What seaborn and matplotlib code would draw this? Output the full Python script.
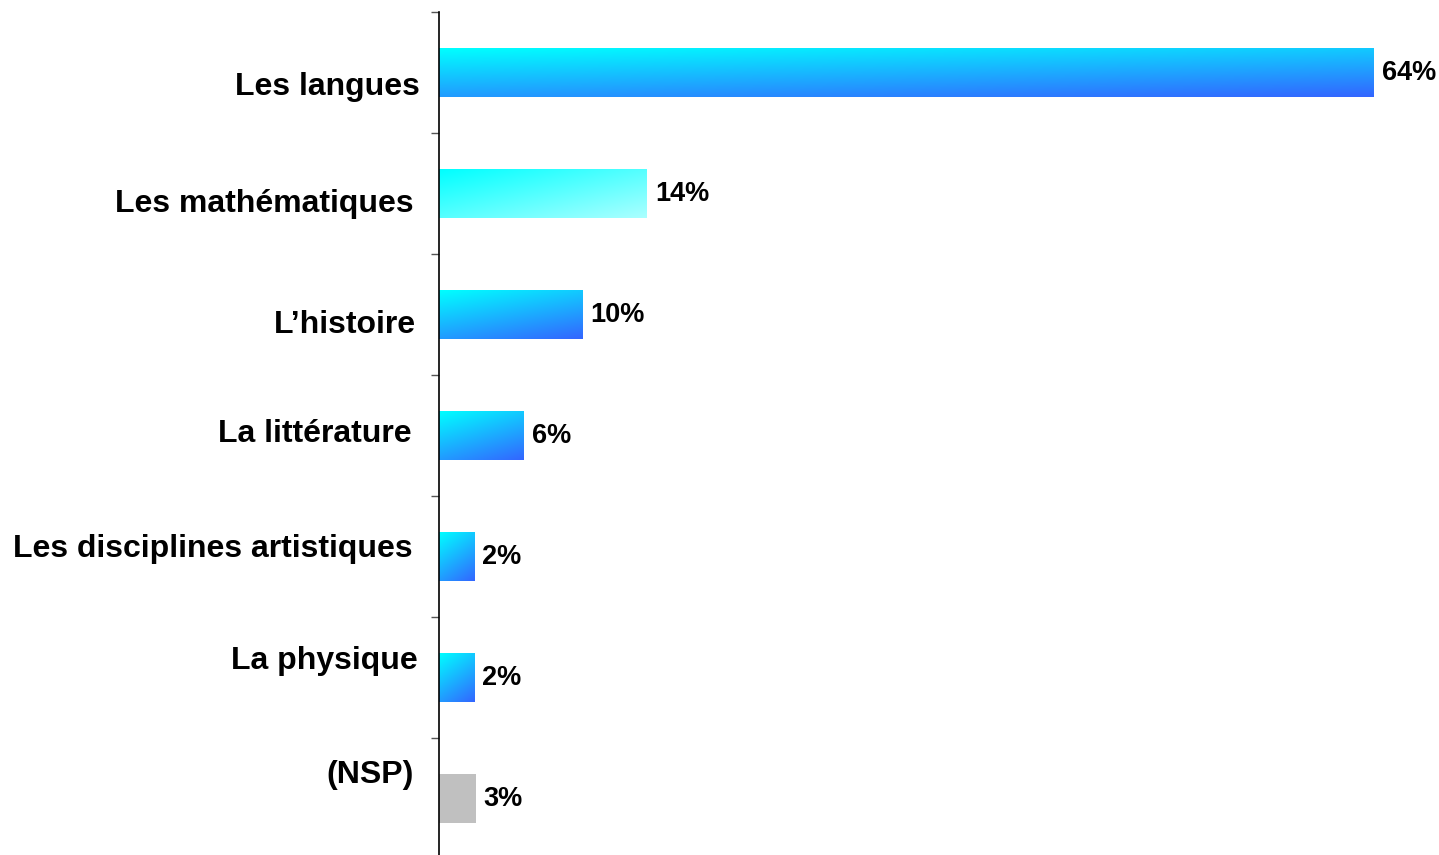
import numpy as np
import pandas as pd
import seaborn as sns
import matplotlib.pyplot as plt
from matplotlib.colors import LinearSegmentedColormap
from matplotlib.transforms import ScaledTranslation

categories = ['Les langues', 'Les mathématiques', 'L\u2019histoire', 'La littérature',
              'Les disciplines artistiques', 'La physique', '(NSP)']
# bar lengths as measured, printed labels are the rounded figures
values = [64, 14.2, 9.8, 5.8, 2.4, 2.4, 2.5]
value_labels = ['64%', '14%', '10%', '6%', '2%', '2%', '3%']

sns.set_style('white')
plt.rcParams['font.family'] = ['Liberation Sans', 'DejaVu Sans']

df = pd.DataFrame({'cat': categories, 'val': values})

fig = plt.figure(figsize=(14.39, 8.55), dpi=100)
ax = fig.add_axes([439 / 1439, -4 / 855, 1000 / 1439, 847 / 855])

sns.barplot(data=df, x='val', y='cat', orient='h', ax=ax, width=0.4,
            color='#00ffff', saturation=1, edgecolor='none')

# gradient fills clipped to each bar
blue = LinearSegmentedColormap.from_list('blue', ['#00ffff', '#3366ff'])
pale = LinearSegmentedColormap.from_list('pale', ['#00ffff', '#aaffff'])
u, v = np.meshgrid(np.linspace(0, 1, 200), np.linspace(0, 1, 50))
for i, patch in enumerate(ax.patches):
    x0, y0, w, h = patch.get_x(), patch.get_y(), patch.get_width(), patch.get_height()
    if categories[i] == '(NSP)':
        patch.set_facecolor('#c0c0c0')
        continue
    if i == 1:
        grad, cmap = (u + v) / 2, pale
    else:
        grad, cmap = 0.35 * u + 0.65 * v, blue
    im = ax.imshow(grad, cmap=cmap, vmin=0, vmax=1, extent=(x0, x0 + w, y0 + h, y0),
                   origin='upper', aspect='auto', zorder=patch.get_zorder() + 0.1)
    im.set_clip_path(patch)

texts = ax.bar_label(ax.containers[0], labels=value_labels, padding=6,
                     fontsize=19.5, fontweight='bold', color='black')
for t in texts:
    t.set_transform(t.get_transform() + ScaledTranslation(0, -0.03, fig.dpi_scale_trans))

ax.set_xlim(0, 64 * 1000 / 935)
ax.set_ylim(6.5, -0.5)
ax.set_xlabel('')
ax.set_ylabel('')
ax.set_xticks([])
ax.set_yticks(range(len(categories)))
ax.set_yticklabels(categories, fontsize=23, fontweight='bold', color='black')
ax.set_yticks(np.arange(-0.5, len(categories)), minor=True)
ax.tick_params(axis='y', which='major', length=0, pad=16)
ax.tick_params(axis='y', which='minor', length=6, width=1, color='#555555', left=True)

# the category labels sit a little off their bars in the original
label_shift = [11, 7, 7, -5, -11, -20, -27]
label_right = [20, 26, 24, 28, 27, 22, 26]
for lab, dy, dx in zip(ax.get_yticklabels(), label_shift, label_right):
    lab.set_transform(lab.get_transform() +
                      ScaledTranslation((23 - dx) / 100, -dy / 100, fig.dpi_scale_trans))

for side in ['top', 'right', 'bottom']:
    ax.spines[side].set_visible(False)
ax.spines['left'].set_color('black')
ax.spines['left'].set_linewidth(1.2)

fig.savefig('out.png', dpi=100)
